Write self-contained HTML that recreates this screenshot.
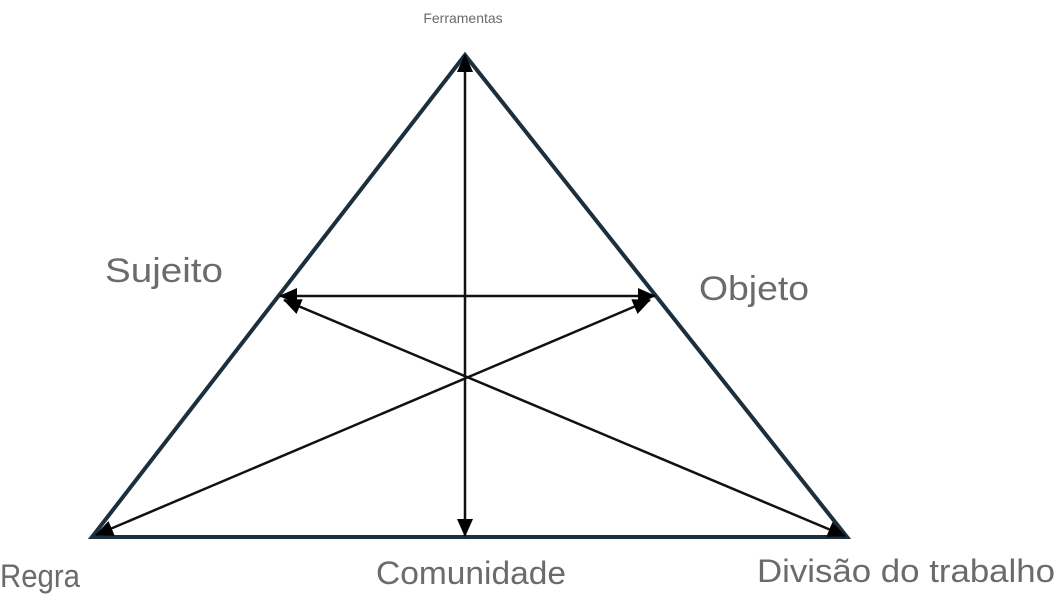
<!DOCTYPE html>
<html><head><meta charset="utf-8"><style>
html,body{margin:0;padding:0;background:#fff;}
svg{display:block;}
text{font-family:"Liberation Sans",sans-serif;fill:#6b6b6b;}
</style></head><body>
<svg width="1061" height="600" viewBox="0 0 1061 600">
<defs>
<marker id="a" markerWidth="18" markerHeight="16" refX="17" refY="8" orient="auto-start-reverse" markerUnits="userSpaceOnUse" viewBox="0 0 18 16">
<path d="M0,0 L18,8 L0,16 z" fill="#000"/></marker>
</defs>
<polygon points="465,55 92,537 847,537" fill="none" stroke="#1b2f3c" stroke-width="4" stroke-linejoin="miter"/>
<g stroke="#111" stroke-width="2.5" fill="none">
<line x1="280" y1="296" x2="655" y2="296" marker-start="url(#a)" marker-end="url(#a)"/>
<line x1="465" y1="55" x2="465" y2="536" marker-start="url(#a)" marker-end="url(#a)"/>
<line x1="96" y1="535" x2="650" y2="300" marker-start="url(#a)" marker-end="url(#a)"/>
<line x1="284" y1="300" x2="845" y2="536" marker-start="url(#a)" marker-end="url(#a)"/>
</g>
<text x="463" y="23" font-size="14" text-anchor="middle">Ferramentas</text>
<text x="105" y="282" font-size="34" textLength="118" lengthAdjust="spacingAndGlyphs">Sujeito</text>
<text x="699" y="300" font-size="34" textLength="110" lengthAdjust="spacingAndGlyphs">Objeto</text>
<text x="0" y="587" font-size="32" textLength="80" lengthAdjust="spacingAndGlyphs">Regra</text>
<text x="376" y="584" font-size="32" textLength="190" lengthAdjust="spacingAndGlyphs">Comunidade</text>
<text x="757" y="582" font-size="32" textLength="298" lengthAdjust="spacingAndGlyphs">Divisão do trabalho</text>
</svg>
</body></html>
